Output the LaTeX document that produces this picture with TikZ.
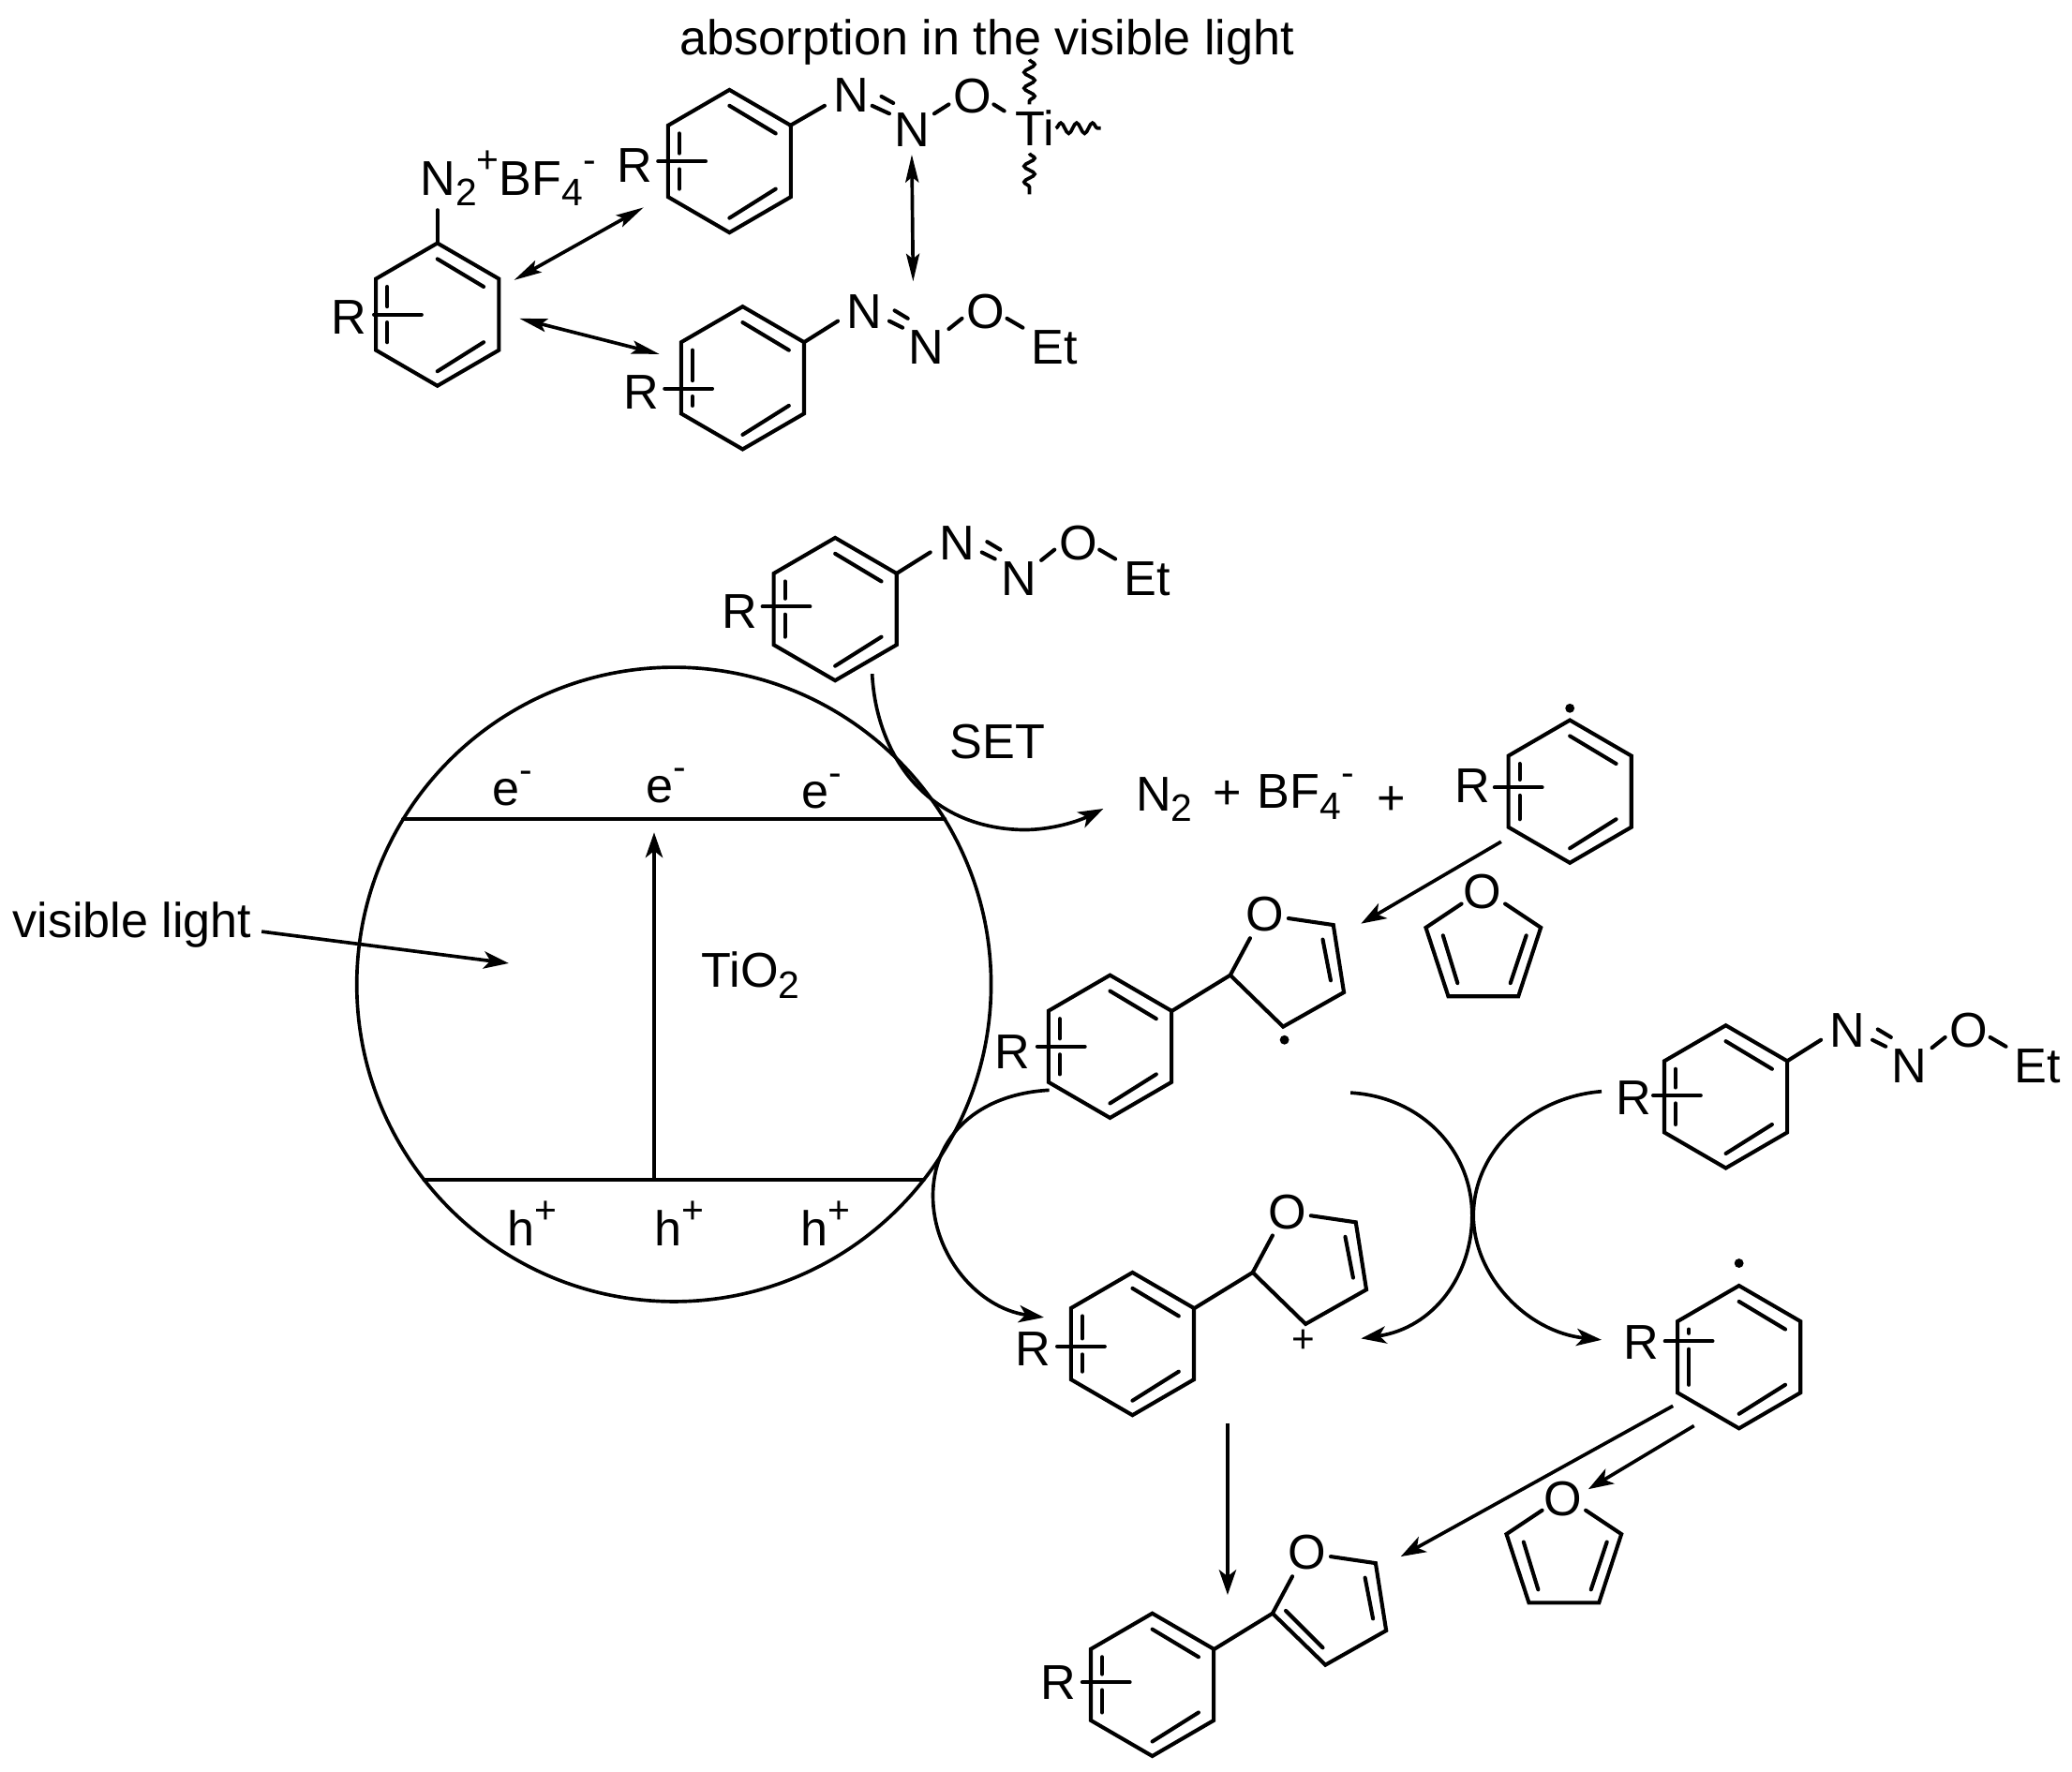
\documentclass[tikz,border=0pt]{standalone}
\usepackage{fontspec}
\setmainfont{Liberation Sans}
\usetikzlibrary{arrows.meta,decorations.pathmorphing,calc}
\newcommand{\dn}[1]{\raisebox{-0.22em}{\fontsize{29}{29}\selectfont #1}}
\newcommand{\up}[1]{\raisebox{0.46em}{\fontsize{29}{29}\selectfont #1}}
\tikzset{
  bond/.style={line width=2.9pt,line cap=round,line join=miter},
  lab/.style={inner sep=0pt,outer sep=0pt,font=\fontsize{37}{40}\selectfont},
  arr/.style={line width=2.6pt,-{Stealth[length=19pt,width=13pt,inset=5pt]}},
  eqarr/.style={line width=2.6pt,{Stealth[length=21pt,width=10pt,inset=4pt]}-{Stealth[length=21pt,width=10pt,inset=4pt]}},
  squig/.style={line width=2.6pt,decorate,decoration={snake,amplitude=4pt,segment length=12pt}}
}
% benzene ring: name, cx, cy, bar offset, bar start, R x, R y
\newcommand{\molring}[7]{%
  \begin{scope}[shift={(#2,#3)}]
    \coordinate (#11) at (0,-54);
    \coordinate (#12) at (46.5,-27);
    \coordinate (#13) at (46.5,27);
    \coordinate (#14) at (0,54);
    \coordinate (#15) at (-46.5,27);
    \coordinate (#16) at (-46.5,-27);
    \draw[bond] (#11)--(#12)--(#13)--(#14)--(#15)--(#16)--cycle;
    \draw[bond] (0,-42)--(35,-21) (0,43)--(35,21);
    \pgfmathsetmacro{\barA}{#4-6}\pgfmathsetmacro{\barB}{#4+6}\pgfmathsetmacro{\barE}{#5+36}
    \draw[bond] (-38,-21)--(-38,\barA) (-38,\barB)--(-38,21);
    \draw[bond] (#5,#4)--(\barE,#4);
  \end{scope}
  \node[lab] (#1R) at (#6,#7) {R};
}
% azo chain relative to a ring centre
\newcommand{\azoet}[3]{%
  \begin{scope}[shift={(#2,#3)}]
    \node[lab] (#1Na) at (92,-50) {N};
    \node[lab] (#1Nb) at (139,-23) {N};
    \node[lab] (#1O) at (184,-50) {O};
    \node[lab] (#1Et) at (236,-23) {Et};
    \draw[bond] (46.5,-27)--(72,-43);
    \draw[bond] (115,-51)--(125,-45) (111,-43)--(121,-38);
    \draw[bond] (156,-37)--(166,-45);
    \draw[bond] (200,-45)--(212,-38);
  \end{scope}
}
% dihydrofuran attached to a ring, given as an offset from the first copy
\newcommand{\furanyl}[3]{%
  \begin{scope}[shift={(#2,#3)}]
    \node[lab] (#1O) at (957,692) {O};
    \coordinate (#1a) at (931,738);
    \coordinate (#1b) at (971,777);
    \coordinate (#1c) at (1017,751);
    \coordinate (#1d) at (1009,700);
    \draw[bond] (887,765)--(#1a);
    \draw[bond] (#1a)--(946,710);
    \draw[bond] (#1a)--(#1b)--(#1c)--(#1d)--(975,695);
    \draw[bond] (1001,711)--(1007,742);
  \end{scope}
}
\newcommand{\furan}[3]{%
  \begin{scope}[shift={(#2,#3)}]
    \node[lab] (#1O) at (1122,675) {O};
    \draw[bond] (1106,684)--(1079,702)--(1096,754)--(1149,754)--(1166,702)--(1139,684);
    \draw[bond] (1092,708)--(1103,744) (1155,708)--(1143,744);
  \end{scope}
}
\begin{document}
\begin{tikzpicture}[x=1pt,y=-1pt]
\useasboundingbox (0,0) rectangle (1568,1341);
% top text
\node[lab] (title) at (747,32) {absorption in the visible light};
% top rings
\molring{A}{552}{122}{0}{-54}{480}{125}
\molring{B}{331}{238}{0}{-48}{264}{240}
\molring{C}{562}{286}{8}{-59}{485}{297}
% A chain with Ti
\node[lab] (ANa) at (644,72) {N};
\node[lab] (ANb) at (690,98) {N};
\node[lab] (AO) at (736,73) {O};
\node[lab] (ATi) at (783,97) {Ti};
\draw[bond] (598,95)--(624,80);
\draw[bond] (667,73)--(676,78) (660,80)--(673,86);
\draw[bond] (707,86)--(718,79);
\draw[bond] (752,79)--(760,84);
\coordinate (wa1) at (779,45); \coordinate (wa2) at (779,79);
\coordinate (wb1) at (779,116); \coordinate (wb2) at (779,147);
\coordinate (wc1) at (799,97); \coordinate (wc2) at (833,97);
\draw[squig] (wa1)--(wa2);
\draw[squig] (wb1)--(wb2);
\draw[squig] (wc1)--(wc2);
\azoet{C}{562}{286}
% N2+ BF4-
\node[lab,anchor=west] (diaz) at (318,135) {N\dn{2}\up{+}BF\dn{4}\up{-}};
\draw[bond] (B1)--(331,159);
% equilibria
\coordinate (e1a) at (389,212); \coordinate (e1b) at (487,157);
\coordinate (e2a) at (393,241); \coordinate (e2b) at (499,268);
\coordinate (e3a) at (690,117); \coordinate (e3b) at (691,213);
\draw[eqarr] (e1a)--(e1b);
\draw[eqarr] (e2a)--(e2b);
\draw[eqarr] (e3a)--(e3b);
% TiO2 particle
\node[circle,draw,line width=2.6pt,minimum size=480pt,inner sep=0pt] (tio) at (510,745) {};
\coordinate (cbL) at (305,620); \coordinate (cbR) at (715,620);
\coordinate (vbL) at (321,893); \coordinate (vbR) at (699,893);
\draw[bond] (cbL)--(cbR);
\draw[bond] (vbL)--(vbR);
\coordinate (exA) at (495,893); \coordinate (exB) at (495,630);
\draw[arr] (exA)--(exB);
\node[lab] (e1) at (388,597) {e\up{-}};
\node[lab] (e2) at (504,595) {e\up{-}};
\node[lab] (e3) at (622,599) {e\up{-}};
\node[lab] (h1) at (403,926) {h\up{+}};
\node[lab] (h2) at (514,926) {h\up{+}};
\node[lab] (h3) at (625,926) {h\up{+}};
\node[lab] (tio2) at (568,738) {TiO\dn{2}};
\node[lab] (vis) at (100,700) {visible light};
\coordinate (visA) at (198,705); \coordinate (visB) at (385,729);
\draw[arr] (visA)--(visB);
% middle
\molring{D}{632}{461}{-2}{-55}{560}{463}
\azoet{D}{632}{461}
\node[lab] (set) at (755,561) {SET};
\coordinate (setA) at (660,510); \coordinate (setB) at (775,628); \coordinate (setC) at (835,612);
\draw[arr] (setA) .. controls (663,570) and (700,627) .. (setB) .. controls (795,628) and (815,622) .. (setC);
\node[lab] (n2) at (881,605) {N\dn{2}};
\node[lab] (p1) at (929,602) {+};
\node[lab] (bf4) at (988,603) {BF\dn{4}\up{-}};
\node[lab] (p2) at (1053,606) {+};
\molring{E}{1188}{599}{-3}{-57}{1114}{595}
\fill (1188,536) circle (3.5pt);
\coordinate (eA) at (1136,637); \coordinate (eB) at (1030,699);
\draw[arr] (eA)--(eB);
\furan{fu1}{0}{0}
% F ring
\molring{F}{840}{792}{0}{-55}{766}{796}
\furanyl{Ff}{0}{0}
\fill (972,787) circle (3.5pt);
% G ring
\molring{G}{1306}{830}{-1}{-55}{1236}{831}
\azoet{G}{1306}{830}
% H ring
\molring{H}{857}{1017}{2}{-57}{782}{1021}
\furanyl{Hf}{17}{225}
\node[lab] (plus) at (986,1015) {\fontsize{30}{30}\selectfont +};
% I ring
\molring{I}{1316}{1027}{-12}{-56}{1242}{1016}
\fill (1316,956) circle (3.5pt);
% curved arrows
\coordinate (cl1) at (794,825); \coordinate (cl2) at (706,905); \coordinate (cl3) at (790,997);
\draw[arr] (cl1) .. controls (740,828) and (706,860) .. (cl2) .. controls (706,950) and (740,990) .. (cl3);
\coordinate (cr1) at (1022,827); \coordinate (cr2) at (1114,920); \coordinate (cr3) at (1030,1013);
\draw[arr] (cr1) .. controls (1075,830) and (1114,870) .. (cr2) .. controls (1114,965) and (1085,1005) .. (cr3);
\coordinate (cs1) at (1212,826); \coordinate (cs2) at (1115,920); \coordinate (cs3) at (1212,1014);
\draw[arr] (cs1) .. controls (1160,830) and (1115,870) .. (cs2) .. controls (1115,965) and (1155,1008) .. (cs3);
% down arrow
\coordinate (dA) at (929,1077); \coordinate (dB) at (929,1207);
\draw[arr] (dA)--(dB);
% I arrows
\coordinate (iA) at (1266,1064); \coordinate (iB) at (1060,1178);
\draw[arr] (iA)--(iB);
\coordinate (jA) at (1282,1079); \coordinate (jB) at (1202,1127);
\draw[arr] (jA)--(jB);
\furan{fu2}{61}{459}
% product
\molring{J}{872}{1275}{-2}{-53}{801}{1273}
\furanyl{Jf}{32}{483}
\draw[bond] (973,1219)--(1001,1247);
\end{tikzpicture}
\end{document}
